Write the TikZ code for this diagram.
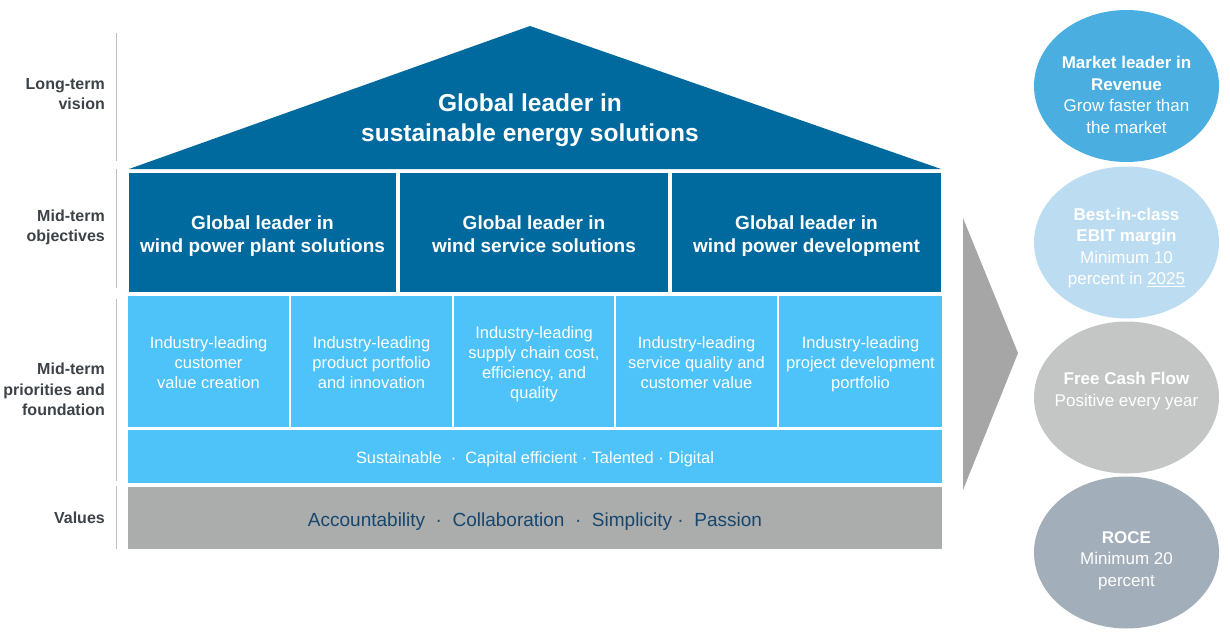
\documentclass[tikz,border=0pt]{standalone}
\usepackage{fontspec}
\setmainfont{Liberation Sans}
\usetikzlibrary{shapes.geometric}
\definecolor{dblue}{HTML}{006A9E}
\definecolor{lblue}{HTML}{4DC3FA}
\definecolor{barGray}{HTML}{ABACAC}
\definecolor{valText}{HTML}{17466E}
\definecolor{labText}{HTML}{3C4248}
\definecolor{sepGray}{HTML}{BFBFBF}
\definecolor{chevGray}{HTML}{A6A6A6}
\definecolor{cOne}{HTML}{4BAEE0}
\definecolor{cTwo}{HTML}{BCDDF1}
\definecolor{cThree}{HTML}{C4C5C5}
\definecolor{cFour}{HTML}{A2AFBA}
\begin{document}
\begin{tikzpicture}[x=1pt,y=-1pt,
  objbox/.style={fill=dblue,draw=none,inner sep=0pt,text=white,align=center,
    font=\fontsize{19}{23}\selectfont\bfseries},
  prbox/.style={fill=lblue,draw=none,inner sep=0pt,text=white,align=center,
    font=\fontsize{16.5}{20}\selectfont},
  prtext/.style={draw=none,inner sep=0pt,text=white,align=center,
    font=\fontsize{16.5}{20}\selectfont},
  lab/.style={anchor=east,align=right,text=labText,inner sep=0pt,
    font=\fontsize{16}{20.5}\selectfont\bfseries},
  goal/.style={ellipse,draw=none,inner sep=0pt,minimum width=185pt,minimum height=152pt},
  goaltext/.style={align=center,text=white,inner sep=0pt,
    font=\fontsize{17}{21.5}\selectfont},
  sepline/.style={draw=sepGray,line width=1pt}
]
\useasboundingbox (0,0) rectangle (1230,634);

% left separator lines
\draw[sepline] (116,33) -- (116,161);
\draw[sepline] (116,169) -- (116,288);
\draw[sepline] (116,299) -- (116,481);
\draw[sepline] (116,486) -- (116,549);

% left labels
\node[lab] (l1) at (105,94) {Long-term\\vision};
\node[lab] (l2) at (105,227.5) {Mid-term\\objectives};
\node[lab] (l3) at (105,389.5) {Mid-term\\priorities and\\foundation};
\node[lab] (l4) at (105,518) {Values};

% roof
\fill[dblue] (129,169) -- (530,26) -- (941,169) -- cycle;
\node[text=white,align=center,inner sep=0pt,font=\fontsize{24.5}{29.5}\selectfont\bfseries]
  (roof) at (530,120) {Global leader in\\sustainable energy solutions};

% mid-term objectives
\node[objbox,minimum width=267pt,minimum height=119pt] (o1) at (262.5,232.5) {};
\node[objbox,minimum width=268pt,minimum height=119pt] (o2) at (534,232.5) {};
\node[objbox,minimum width=269pt,minimum height=119pt] (o3) at (806.5,232.5) {};
\node[objbox,fill=none] (o1t) at (262.5,236) {Global leader in\\wind power plant solutions};
\node[objbox,fill=none] (o2t) at (534,234) {Global leader in\\wind service solutions};
\node[objbox,fill=none] (o3t) at (806.5,236) {Global leader in\\wind power development};

% priorities
\node[prbox,minimum width=161pt,minimum height=131pt] (p1) at (208.5,361.5) {};
\node[prbox,minimum width=161pt,minimum height=131pt] (p2) at (371.5,361.5) {};
\node[prbox,minimum width=160pt,minimum height=131pt] (p3) at (534,361.5) {};
\node[prbox,minimum width=161pt,minimum height=131pt] (p4) at (696.5,361.5) {};
\node[prbox,minimum width=163pt,minimum height=131pt] (p5) at (860.5,361.5) {};
\node[prtext] (p1t) at (208.5,362.5) {Industry-leading\\customer\\value creation};
\node[prtext] (p2t) at (371.5,362.5) {Industry-leading\\product portfolio\\and innovation};
\node[prtext] (p3t) at (534,364.5) {Industry-leading\\supply chain cost,\\efficiency, and\\quality};
\node[prtext] (p4t) at (696.5,362.5) {Industry-leading\\service quality and\\customer value};
\node[prtext] (p5t) at (860.5,364.5) {Industry-leading\\project development\\portfolio};

% foundation bar
\node[prbox,minimum width=814pt,minimum height=53pt] (found) at (535,456.5) {};
\node[text=white,inner sep=0pt,font=\fontsize{16.4}{20}\selectfont] (foundt) at (535,459)
  {Sustainable\ \ ·\ \ Capital efficient · Talented · Digital};

% values bar
\node[fill=barGray,inner sep=0pt,minimum width=814pt,minimum height=62pt] (vals) at (535,518) {};
\node[text=valText,inner sep=0pt,font=\fontsize{19}{23}\selectfont] (valst) at (535,521.5)
  {Accountability\ \ ·\ \ Collaboration\ \ ·\ \ Simplicity ·\ \ Passion};

% chevron
\fill[chevGray] (963,218) -- (1018,353) -- (963,490) -- cycle;

% goal ellipses
\node[goal,fill=cOne] (g1) at (1126.5,86) {};
\node[goal,fill=cTwo] (g2) at (1126.5,242.5) {};
\node[goal,fill=cThree] (g3) at (1126.5,397.5) {};
\node[goal,fill=cFour] (g4) at (1126.5,552.5) {};

\node[goaltext] (t1) at (1126.5,95) {\textbf{Market leader in}\\\textbf{Revenue}\\Grow faster than\\the market};
\node[goaltext] (t2) at (1126.5,248) {\textbf{Best-in-class}\\\textbf{EBIT margin}\\Minimum 10\\percent in \underline{2025}};
\node[goaltext] (t3) at (1126.5,391) {\textbf{Free Cash Flow}\\Positive every year};
\node[goaltext] (t4) at (1126.5,560.5) {\textbf{ROCE}\\Minimum 20\\percent};
\end{tikzpicture}
\end{document}
